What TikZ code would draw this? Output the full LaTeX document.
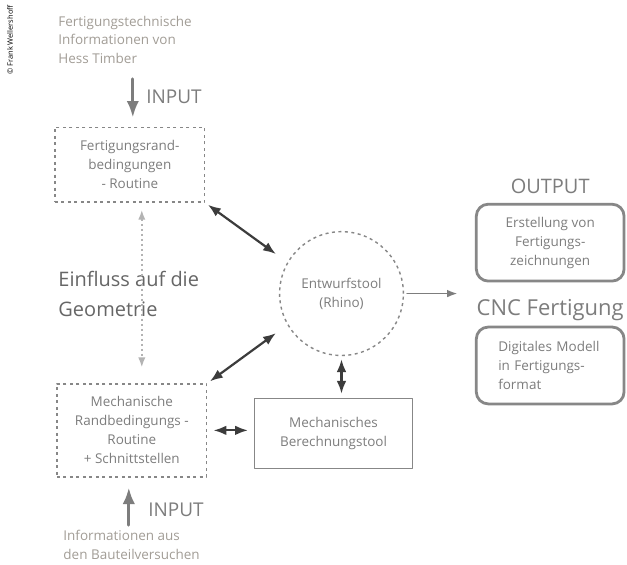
\documentclass[tikz,border=0pt]{standalone}
\usepackage{fontspec}
\setmainfont{Open Sans}
\usetikzlibrary{arrows.meta,calc,positioning}
\definecolor{fwInk}{HTML}{666666}
\definecolor{fwGrey}{HTML}{7D7D7D}
\definecolor{fwSoft}{HTML}{A29D96}
\definecolor{fwLine}{HTML}{878787}
\definecolor{fwDark}{HTML}{3C3C3C}
\definecolor{fwPale}{HTML}{B3B3B3}

\begin{document}
\begin{tikzpicture}[x=1pt,y=-1pt,>=Latex,line cap=round,line join=round]
\path[fill=white] (0,0) rectangle (627,565);
\tikzset{body/.style={text=fwGrey,font=\fontsize{13.5}{19}\selectfont,align=center},dashbox/.style={body,draw=fwLine,line width=1.6pt,line cap=butt,dash pattern=on 3pt off 3.5pt,minimum width=150pt},outbox/.style={body,draw=fwLine,line width=2.8pt,rounded corners=12pt,minimum width=148pt,minimum height=77pt},biarrow/.style={draw=fwDark,line width=2.2pt,<->},inarrow/.style={draw=fwGrey,line width=3pt,->},biglabel/.style={text=fwGrey,font=\fontsize{19}{22}\selectfont}}
\node[rotate=90,text=black,font=\fontsize{7.5}{8}\selectfont] (copy) at (10,40) {© Frank Wellershoff};
% input from above
\node[body,text=fwSoft,anchor=west,align=left] (infoTop) at (55,40) {Fertigungstechnische\\Informationen von\\Hess Timber};
\node[biglabel,anchor=west] (inLabelTop) at (143,97) {INPUT};
\node[dashbox,minimum height=75pt] (rand) at (130,165) {Fertigungsrand-\\bedingungen\\- Routine};
\coordinate (inTop) at (133,79);
\draw[inarrow,shorten >=9pt] (inTop) -- (inTop |- rand.north);
% design tool
\node[body,draw=fwLine,line width=1.4pt,line cap=butt,dash pattern=on 3pt off 3.5pt,circle,minimum size=124pt] (tool) at (342,294) {Entwurfstool\\(Rhino)};
\node[text=fwInk,anchor=west,align=left,font=\fontsize{20}{30}\selectfont] (geo) at (55,294) {Einfluss auf die\\Geometrie};
\node[dashbox,minimum height=93pt] (mech) at (132,431) {Mechanische\\Randbedingungs -\\Routine\\+ Schnittstellen};
\node[body,draw=fwLine,line width=1.3pt,minimum width=158pt,minimum height=70pt] (calc) at (334,434) {Mechanisches\\Berechnungstool};
\draw[draw=fwPale,line width=1.5pt,line cap=butt,dash pattern=on 2pt off 3pt,<->,shorten <=7pt,shorten >=16pt] ($(rand.south)+(12,0)$) -- ($(mech.north)+(10,0)$);
\draw[biarrow,shorten <=3pt,shorten >=14pt] (rand.south east) -- (tool.150);
\draw[biarrow,shorten <=3pt,shorten >=14pt] (mech.north east) -- (tool.210);
\draw[biarrow,shorten <=3pt,shorten >=4pt] (tool.south) -- (tool.south |- calc.north);
\draw[biarrow,shorten <=6pt,shorten >=6pt] (mech.east) -- (mech.east -| calc.west);
% output side
\coordinate (outEnd) at (458,294);
\draw[draw=fwGrey,line width=1.6pt,->,shorten <=3pt] (tool.east) -- (outEnd);
\node[biglabel,font=\fontsize{20}{22}\selectfont] (outLabel) at (551,187) {OUTPUT};
\node[outbox] (drawings) at (551,243) {Erstellung von\\Fertigungs-\\zeichnungen};
\node[biglabel,font=\fontsize{22}{24}\selectfont] (cncLabel) at (551,311) {CNC Fertigung};
\node[outbox,align=left,text width=104pt] (model) at (551,366) {Digitales Modell\\in Fertigungs-\\format};
% input from below
\coordinate (inBot) at (129,526);
\draw[inarrow,shorten >=10pt] (inBot) -- (inBot |- mech.south);
\node[biglabel,anchor=west] (inLabelBot) at (145,511) {INPUT};
\node[body,text=fwSoft,anchor=west,align=left] (infoBot) at (60,546) {Informationen aus\\den Bauteilversuchen};
\end{tikzpicture}
\end{document}
